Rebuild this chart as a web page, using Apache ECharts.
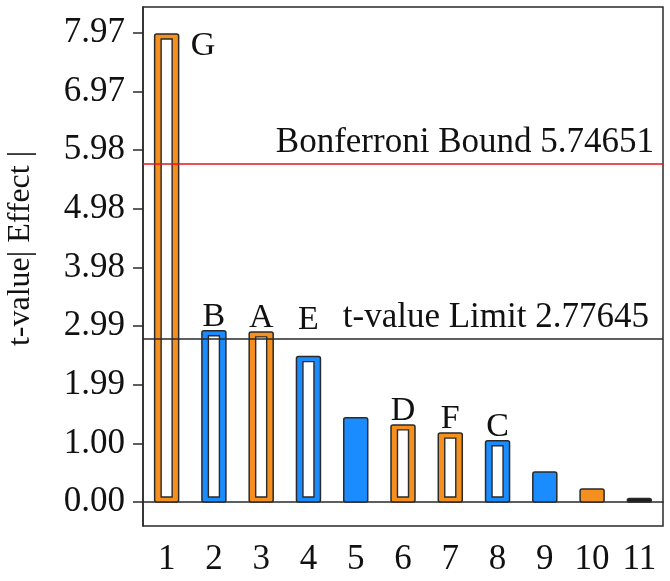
<!DOCTYPE html>
<html>
<head>
<meta charset="utf-8">
<script src="https://cdn.jsdelivr.net/npm/echarts@6/dist/echarts.min.js"></script>
<style>
  html, body { margin: 0; padding: 0; background: #fff; }
  #chart { width: 670px; height: 581px; }
</style>
</head>
<body>
<div id="chart"></div>
<script>
// 横轴序号
const categories = ['1', '2', '3', '4', '5', '6', '7', '8', '9', '10', '11'];
// 各效应的 t 值
const effectValues = [7.95, 2.91, 2.89, 2.47, 1.43, 1.31, 1.17, 1.04, 0.51, 0.22, 0.06];
// 效应名称（空字符串表示没有标注）
const effectNames = ['G', 'B', 'A', 'E', '', 'D', 'F', 'C', '', '', ''];
// 条形样式：hollow 空心，solid 实心
const barKinds = ['hollow', 'hollow', 'hollow', 'hollow', 'solid', 'hollow', 'hollow', 'hollow', 'solid', 'solid', 'solid'];
const barColors = ['orange', 'blue', 'orange', 'blue', 'blue', 'orange', 'orange', 'blue', 'blue', 'orange', 'dark'];
// 纵轴刻度
const tickValues = [0, 0.996, 1.993, 2.989, 3.985, 4.981, 5.978, 6.974, 7.97];
const tickLabels = ['0.00', '1.00', '1.99', '2.99', '3.98', '4.98', '5.98', '6.97', '7.97'];
// 参考线
const bonferroniBound = 5.74651;
const tLimit = 2.77645;

const palette = { orange: '#f5901e', blue: '#1a8cff', dark: '#1e1e1e' };
const FONT = '"Liberation Serif", "Times New Roman", serif';
const INK = '#2a2a2a';

const chart = echarts.init(document.getElementById('chart'));

function renderItem(params, api) {
  const i = api.value(0);
  const v = api.value(1);
  const top = api.coord([i, v]);
  const base = api.coord([i, 0]);
  const w = 24;
  const x = top[0] - w / 2;
  const h = base[1] - top[1];
  const fill = palette[barColors[i]];
  const children = [{
    type: 'rect',
    shape: { x: x, y: top[1], width: w, height: h, r: 2 },
    style: { fill: fill, stroke: INK, lineWidth: 1.5 }
  }];
  if (barKinds[i] === 'hollow') {
    children.push({
      type: 'rect',
      shape: { x: x + 6.5, y: top[1] + 5, width: w - 13, height: h - 10 },
      style: { fill: '#fff', stroke: INK, lineWidth: 1.4 }
    });
  }
  const name = effectNames[i];
  if (name) {
    if (i === 0) {
      children.push({
        type: 'text',
        x: top[0] + 24, y: top[1] + 12,
        style: { text: name, font: '34px ' + FONT, fill: '#111', textAlign: 'left', textVerticalAlign: 'middle' }
      });
    } else {
      children.push({
        type: 'text',
        x: top[0], y: top[1] + (name === 'E' ? -20 : 3),
        style: { text: name, font: '34px ' + FONT, fill: '#111', textAlign: 'center', textVerticalAlign: 'bottom' }
      });
    }
  }
  return { type: 'group', children: children };
}

const option = {
  animation: false,
  grid: {
    left: 143,
    right: 7,
    top: 7,
    bottom: 55,
    containLabel: false,
    outerBoundsMode: 'none',
    show: true,
    borderColor: INK,
    borderWidth: 1.5
  },
  xAxis: {
    type: 'category',
    data: categories,
    boundaryGap: true,
    axisLine: { lineStyle: { color: INK, width: 1.5 } },
    axisTick: { alignWithLabel: true, length: 10, lineStyle: { color: INK, width: 1.5 } },
    axisLabel: { color: '#111', fontFamily: FONT, fontSize: 35, margin: 16 }
  },
  yAxis: {
    type: 'value',
    min: -0.408,
    max: 8.41,
    name: 't-value| Effect |',
    nameLocation: 'middle',
    nameGap: 106,
    nameTextStyle: { color: '#111', fontFamily: FONT, fontSize: 32, padding: [0, 0, 0, 36] },
    splitLine: { show: false },
    axisLine: { show: true, lineStyle: { color: INK, width: 1.5 } },
    axisTick: { show: true, length: 10, customValues: tickValues, lineStyle: { color: INK, width: 1.5 } },
    axisLabel: {
      color: '#111', fontFamily: FONT, fontSize: 35, margin: 18,
      customValues: tickValues,
      formatter: function (val) {
        const k = tickValues.findIndex(t => Math.abs(t - val) < 1e-6);
        return k >= 0 ? tickLabels[k] : '';
      }
    }
  },
  series: [
    {
      type: 'custom',
      renderItem: renderItem,
      encode: { x: 0, y: 1 },
      data: effectValues.map((v, i) => [i, v]),
      markLine: {
        silent: true,
        symbol: 'none',
        data: [
          {
            yAxis: bonferroniBound,
            lineStyle: { color: '#e8141c', width: 1.5, type: 'solid' },
            label: { formatter: 'Bonferroni Bound ' + bonferroniBound, position: 'insideEndTop', distance: [9, 3] }
          },
          {
            yAxis: tLimit,
            lineStyle: { color: INK, width: 1.5, type: 'solid' },
            label: { formatter: 't-value Limit ' + tLimit, position: 'insideEndTop', distance: [14, 3] }
          }
        ],
        label: { color: '#111', fontFamily: FONT, fontSize: 35 }
      }
    }
  ]
};

chart.setOption(option);
window.onresize = () => chart.resize();
</script>
</body>
</html>
